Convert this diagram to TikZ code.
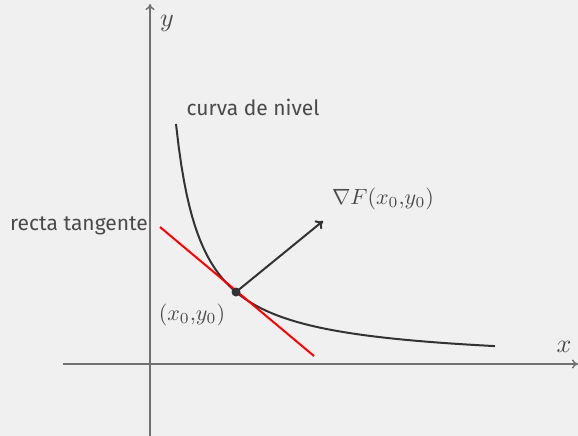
\documentclass[tikz,border=0pt]{standalone}
\usepackage{fontspec}
\setmainfont{Fira Sans}
\usetikzlibrary{arrows.meta}
\definecolor{bg}{HTML}{F0F0F0}
\definecolor{axisc}{HTML}{707070}
\definecolor{curvec}{HTML}{333333}
\definecolor{txt}{HTML}{4A4A4A}
\tikzset{
  axisline/.style={draw=axisc, line width=1.4pt, -{To[length=6pt,width=9pt]}},
  curveline/.style={draw=curvec, line width=2pt},
  tangline/.style={draw=red, line width=2pt},
  gradline/.style={draw=curvec, line width=2pt, -{To[length=7pt,width=11pt]}},
  lbl/.style={text=txt, font=\fontsize{21}{25}\selectfont, inner sep=0pt},
  mlbl/.style={text=txt, scale=2.2, inner sep=0pt},
  alabel/.style={text=txt, scale=2.6, inner sep=0pt}
}
\begin{document}
\begin{tikzpicture}[x=1pt,y=-1pt]
\useasboundingbox (0,0) rectangle (578,436);
\fill[bg] (0,0) rectangle (578,436);
% axes
\coordinate (xs) at (63,364);
\coordinate (xe) at (578,364);
\coordinate (ys) at (150,436);
\coordinate (ye) at (150,4);
\draw[axisline] (xs) -- (xe);
\draw[axisline] (ys) -- (ye);
\node[alabel] (ylab) at (167,23) {$y$};
\node[alabel] (xlab) at (564,347) {$x$};
% level curve
\draw[curveline] plot[domain=26:345, samples=120] ({150+\x},{364-6171/(\x-0.286)});
% tangent line
\coordinate (t1) at (160,227);
\coordinate (t2) at (314,356);
\draw[tangline] (t1) -- (t2);
% gradient
\coordinate (p) at (236,292);
\coordinate (g) at (323,221);
\draw[gradline] (p) -- (g);
\fill[curvec] (p) circle (4.5);
% labels
\node[lbl] (curva) at (253,107) {curva de nivel};
\node[lbl, anchor=east] (recta) at (148,226) {recta tangente};
\node[mlbl] (grad) at (383,199) {$\nabla F(x_0{,}y_0)$};
\node[mlbl] (pt) at (192,315) {$(x_0{,}y_0)$};
\end{tikzpicture}
\end{document}
